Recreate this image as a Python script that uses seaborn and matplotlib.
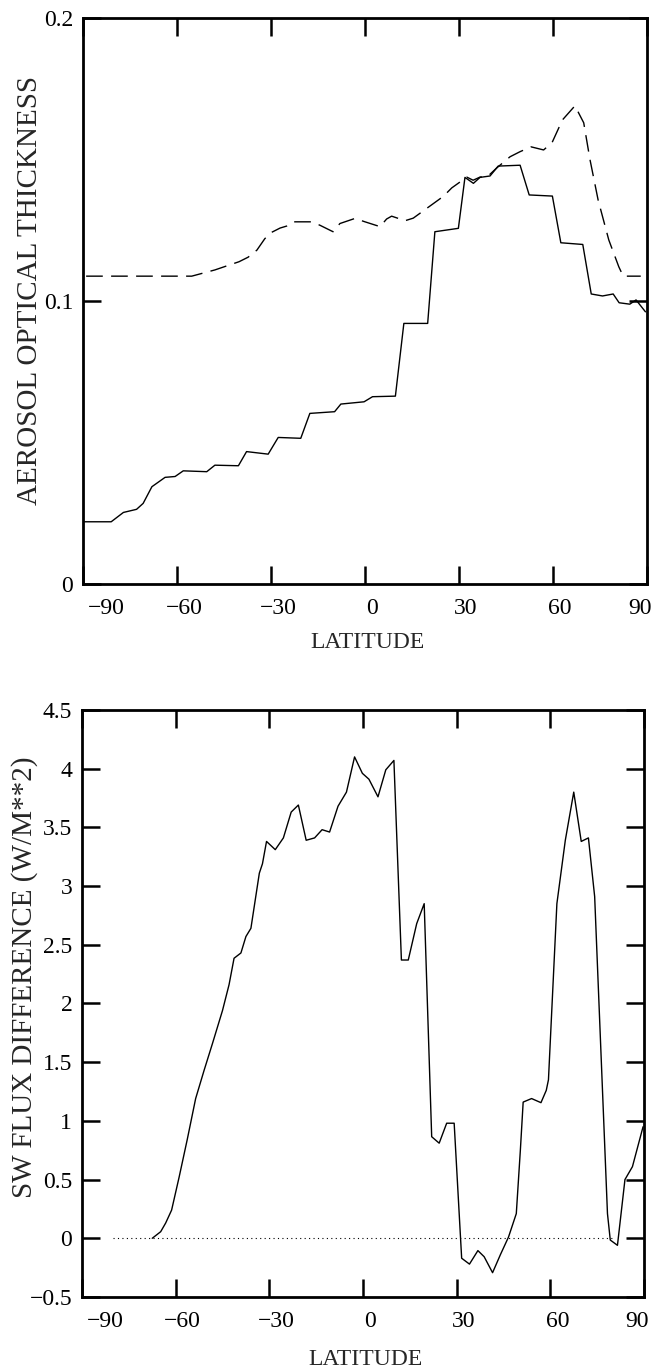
import matplotlib
matplotlib.use("Agg")
import matplotlib.pyplot as plt
import matplotlib.transforms as mtransforms
import seaborn as sns

# ---- zonal-mean aerosol optical thickness (upper panel) ----
lat_aot_solid = [-90, -81, -77.1, -72.9, -70.8, -68, -63.8, -60.6, -58, -50.5,
                 -47.9, -40.4, -37.8, -30.9, -27.7, -20.5, -17.6, -9.7, -7.7, -0.3,
                 2.4, 9.7, 12.4, 20, 22.3, 29.8, 31.9, 34.6, 36.7, 39.9,
                 42.5, 49.5, 52.4, 59.8, 62.5, 69.5, 72.2, 75.8, 79.2, 81.1,
                 84.5, 86.5, 89.5]
aot_solid = [0.022, 0.022, 0.0253, 0.0264, 0.0285, 0.0344, 0.0377, 0.038, 0.040, 0.0397,
             0.042, 0.0418, 0.0468, 0.0459, 0.0518, 0.0515, 0.0603, 0.0609, 0.0636, 0.0644,
             0.0662, 0.0664, 0.0921, 0.0921, 0.1245, 0.1257, 0.1437, 0.1416, 0.1437, 0.1442,
             0.1477, 0.148, 0.1375, 0.1371, 0.1206, 0.120, 0.1025, 0.1018, 0.1025, 0.0994,
             0.0989, 0.1004, 0.0962]

lat_aot_dashed = [-89, -55.3, -47.9, -40.2, -37.3, -34.5, -32, -30.3, -27.1, -25,
                  -23, -17, -14.4, -10.2, -8, -3.2, 0, 4.8, 6.9, 8.5,
                  12.8, 15.4, 25, 27.7, 32.5, 34.5, 36.7, 39.3, 42, 46.3,
                  49.5, 53, 57, 59.7, 63, 67, 69.8, 71.8, 74.4, 77.8,
                  81, 82.4, 88]
aot_dashed = [0.1088, 0.1088, 0.111, 0.1139, 0.1155, 0.118, 0.122, 0.124, 0.1258, 0.1265,
              0.128, 0.128, 0.1268, 0.1245, 0.1274, 0.1292, 0.128, 0.1263, 0.129, 0.130,
              0.1284, 0.1293, 0.137, 0.140, 0.1438, 0.1427, 0.1438, 0.1442, 0.147, 0.151,
              0.1528, 0.1545, 0.1534, 0.156, 0.164, 0.169, 0.163, 0.150, 0.1357, 0.1216,
              0.1121, 0.1088, 0.1088]

# ---- shortwave flux difference (lower panel) ----
lat_sw = [-67.5, -64.8, -63.2, -61.3, -58.9, -56.3, -53.6, -50.9, -48.2, -45,
          -42.9, -41.3, -39.1, -37.5, -35.9, -33.2, -32.2, -30.9, -28.1, -25.5,
          -23, -20.7, -18.2, -15.5, -13.1, -10.7, -8, -5.3, -2.7, -0.2,
          1.9, 4.8, 7.3, 9.9, 12.3, 14.5, 17.2, 19.6, 22, 24.4,
          26.8, 29.2, 31.6, 34.1, 36.8, 38.8, 41.5, 44, 46.6, 49.1,
          50.4, 51.3, 54, 57, 58.7, 59.4, 62.1, 64.8, 67.5, 69.9,
          72.2, 74.2, 78.3, 79.2, 81.5, 83.9, 86.3, 89.7]
sw_diff = [0.0, 0.056, 0.13, 0.24, 0.52, 0.84, 1.19, 1.43, 1.66, 1.94,
           2.16, 2.385, 2.43, 2.57, 2.64, 3.11, 3.19, 3.38, 3.31, 3.41,
           3.63, 3.69, 3.39, 3.41, 3.48, 3.46, 3.68, 3.80, 4.10, 3.96,
           3.91, 3.76, 3.99, 4.07, 2.37, 2.37, 2.68, 2.85, 0.865, 0.81,
           0.98, 0.98, -0.17, -0.22, -0.105, -0.157, -0.293, -0.14, 0.01, 0.21,
           0.75, 1.16, 1.19, 1.155, 1.26, 1.35, 2.85, 3.39, 3.80, 3.38,
           3.41, 2.91, 0.21, -0.015, -0.06, 0.50, 0.61, 0.95]
zero_line_lat = [-80, 80]

# ---- axis text ----
lat_ticks = [-90, -60, -30, 0, 30, 60, 90]
lat_ticklabels = ["\u221290", "\u221260", "\u221230", "0", "30", "60", "90"]
aot_ticks = [0, 0.1, 0.2]
aot_ticklabels = ["0", "0.1", "0.2"]
sw_ticks = [-0.5, 0, 0.5, 1, 1.5, 2, 2.5, 3, 3.5, 4, 4.5]
sw_ticklabels = ["\u22120.5", "0", "0.5", "1", "1.5", "2", "2.5", "3", "3.5", "4", "4.5"]

sns.set_theme(style="ticks")
plt.rcParams["font.family"] = ["Liberation Serif", "DejaVu Serif"]
plt.rcParams["axes.linewidth"] = 2.0

fig = plt.figure(figsize=(6.56, 13.70), dpi=100)
ax1 = fig.add_axes([0.1265, 0.5737, 0.8598, 0.4131])
ax2 = fig.add_axes([0.1250, 0.0533, 0.8567, 0.4285])

sns.lineplot(x=lat_aot_dashed, y=aot_dashed, ax=ax1, color="black", lw=1.0,
             linestyle=(0, (12, 6)), sort=False)
sns.lineplot(x=lat_aot_solid, y=aot_solid, ax=ax1, color="black", lw=1.0, sort=False)

ax2.hlines(0, zero_line_lat[0], zero_line_lat[1], colors="black", lw=0.8,
           linestyles=(0, (1, 3)))
sns.lineplot(x=lat_sw, y=sw_diff, ax=ax2, color="black", lw=1.0, sort=False)

ax1.set_ylim(0, 0.2)
ax1.set_yticks(aot_ticks)
ax1.set_yticklabels(aot_ticklabels)
ax2.set_ylim(-0.5, 4.5)
ax2.set_yticks(sw_ticks)
ax2.set_yticklabels(sw_ticklabels)

for ax in (ax1, ax2):
    ax.set_xlim(-90, 90)
    ax.set_xticks(lat_ticks)
    ax.set_xticklabels(lat_ticklabels)
    ax.tick_params(axis="both", which="major", direction="in", top=True, right=True,
                   length=13, width=1.8, color="black", labelsize=17, labelcolor="black")
    ax.tick_params(axis="x", pad=10)
    ax.tick_params(axis="y", pad=7)
    for sp in ax.spines.values():
        sp.set_visible(True)
        sp.set_linewidth(2.0)
        sp.set_color("black")
    ax.grid(False)
    ax.set_facecolor("white")
    # nudge the latitude labels so the end ones stay inside the frame
    labels = ax.get_xticklabels()
    for i, lab in enumerate(labels):
        if i == 0:
            lab.set_ha("left")
            dx = 5
        elif i == len(labels) - 1:
            lab.set_ha("right")
            dx = 5
        else:
            dx = 7
        lab.set_transform(lab.get_transform() +
                          mtransforms.ScaledTranslation(dx / 100, 0, fig.dpi_scale_trans))

ax1.set_xlabel("LATITUDE", fontsize=17)
ax1.xaxis.label.set_va("center")
ax1.xaxis.set_label_coords(0.505, -0.104)
ax1.set_ylabel("AEROSOL OPTICAL THICKNESS", fontsize=21)
ax1.yaxis.label.set_va("center")
ax1.yaxis.set_label_coords(-0.094, 0.519)

ax2.set_xlabel("LATITUDE", fontsize=17)
ax2.xaxis.label.set_va("center")
ax2.xaxis.set_label_coords(0.5036, -0.1073)
ax2.set_ylabel("SW FLUX DIFFERENCE (W/M**2)", fontsize=21)
ax2.yaxis.label.set_va("center")
ax2.yaxis.set_label_coords(-0.1014, 0.545)

fig.savefig("out.png", dpi=100, facecolor="white")
